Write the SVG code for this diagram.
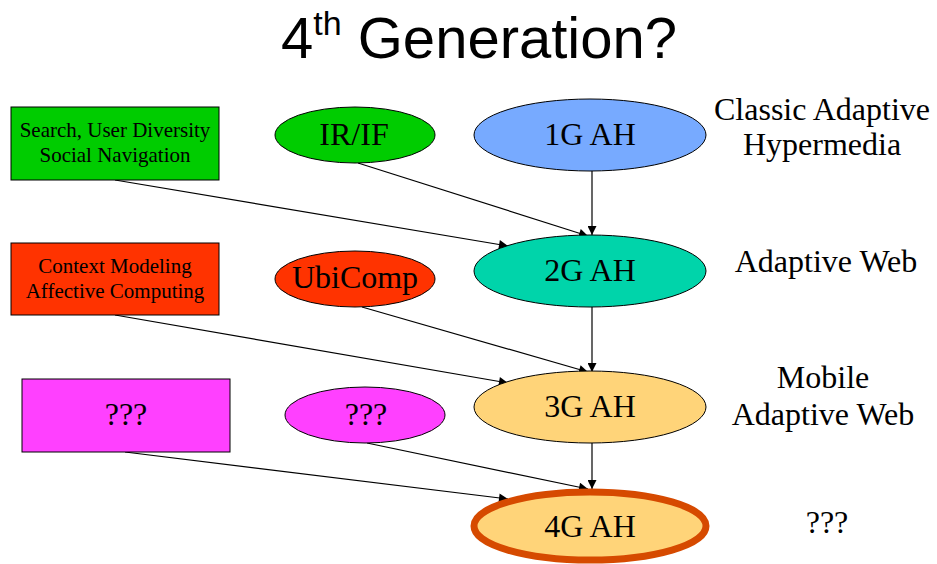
<svg xmlns="http://www.w3.org/2000/svg" width="937" height="564" viewBox="0 0 937 564">
  <style>
    .node { stroke: #000; stroke-width: 1; }
    .lbl { font-family: "Liberation Serif", "Times New Roman", serif; fill: #000; text-anchor: middle; }
    .small { font-size: 21px; }
    .big { font-size: 32px; }
    .side { font-size: 32px; }
    .edge { stroke: #000; stroke-width: 1.2; fill: none; marker-end: url(#arrow); }
  </style>
  <defs>
    <marker id="arrow" viewBox="0 0 10 10" refX="10" refY="5" markerWidth="10" markerHeight="9" markerUnits="userSpaceOnUse" orient="auto">
      <path d="M0,0 L10,5 L0,10 Z" fill="#000"/>
    </marker>
  </defs>

  <rect width="937" height="564" fill="#fff"/>

  <!-- title -->
  <text x="479" y="58" font-family="Liberation Sans, Arial, sans-serif" font-size="58" text-anchor="middle" fill="#000">4<tspan font-size="34" dy="-23">th</tspan><tspan dy="23"> Generation?</tspan></text>

  <!-- connectors -->
  <g id="edges">
    <line class="edge" x1="115" y1="180" x2="508" y2="246"/>
    <line class="edge" x1="358" y1="163" x2="588" y2="236"/>
    <line class="edge" x1="592" y1="171" x2="592" y2="235"/>
    <line class="edge" x1="115" y1="315" x2="508" y2="383"/>
    <line class="edge" x1="362" y1="307" x2="588" y2="372"/>
    <line class="edge" x1="592" y1="307" x2="592" y2="372"/>
    <line class="edge" x1="125" y1="452" x2="508" y2="499"/>
    <line class="edge" x1="367" y1="443" x2="588" y2="489"/>
    <line class="edge" x1="592" y1="443" x2="592" y2="489"/>
  </g>

  <!-- row 1 -->
  <g id="search">
    <rect class="node" x="11" y="107" width="208" height="73" fill="#00CC00"/>
    <text class="lbl small" x="115" y="137">Search, User Diversity</text>
    <text class="lbl small" x="115" y="162">Social Navigation</text>
  </g>
  <g id="irif">
    <ellipse class="node" cx="355" cy="135" rx="80" ry="28" fill="#00CC00"/>
    <text class="lbl big" x="354" y="145">IR/IF</text>
  </g>
  <g id="ah1">
    <ellipse class="node" cx="590" cy="135" rx="116" ry="36" fill="#77AAFF"/>
    <text class="lbl big" x="590" y="145">1G AH</text>
  </g>
  <g id="label1">
    <text class="lbl side" x="822" y="120">Classic Adaptive</text>
    <text class="lbl side" x="822" y="155">Hypermedia</text>
  </g>

  <!-- row 2 -->
  <g id="context">
    <rect class="node" x="11" y="243" width="208" height="72" fill="#FF3300"/>
    <text class="lbl small" x="115" y="273">Context Modeling</text>
    <text class="lbl small" x="115" y="298">Affective Computing</text>
  </g>
  <g id="ubicomp">
    <ellipse class="node" cx="355" cy="279" rx="80" ry="28" fill="#FF3300"/>
    <text class="lbl big" x="355" y="288">UbiComp</text>
  </g>
  <g id="ah2">
    <ellipse class="node" cx="590" cy="271" rx="116" ry="36" fill="#00D4AA"/>
    <text class="lbl big" x="590" y="281">2G AH</text>
  </g>
  <g id="label2">
    <text class="lbl side" x="826" y="272">Adaptive Web</text>
  </g>

  <!-- row 3 -->
  <g id="unknown-rect">
    <rect class="node" x="22" y="379" width="208" height="73" fill="#FF40FF"/>
    <text class="lbl big" x="126" y="425">???</text>
  </g>
  <g id="unknown-oval">
    <ellipse class="node" cx="365" cy="415" rx="80" ry="28" fill="#FF40FF"/>
    <text class="lbl big" x="366" y="425">???</text>
  </g>
  <g id="ah3">
    <ellipse class="node" cx="590" cy="407" rx="116" ry="36" fill="#FFD479"/>
    <text class="lbl big" x="590" y="417">3G AH</text>
  </g>
  <g id="label3">
    <text class="lbl side" x="823" y="388">Mobile</text>
    <text class="lbl side" x="823" y="425">Adaptive Web</text>
  </g>

  <!-- row 4 -->
  <g id="ah4">
    <ellipse cx="590" cy="526" rx="116" ry="34" fill="#FFD479" stroke="#D64A00" stroke-width="7"/>
    <text class="lbl big" x="590" y="537">4G AH</text>
  </g>
  <g id="label4">
    <text class="lbl side" x="827" y="533">???</text>
  </g>
</svg>
